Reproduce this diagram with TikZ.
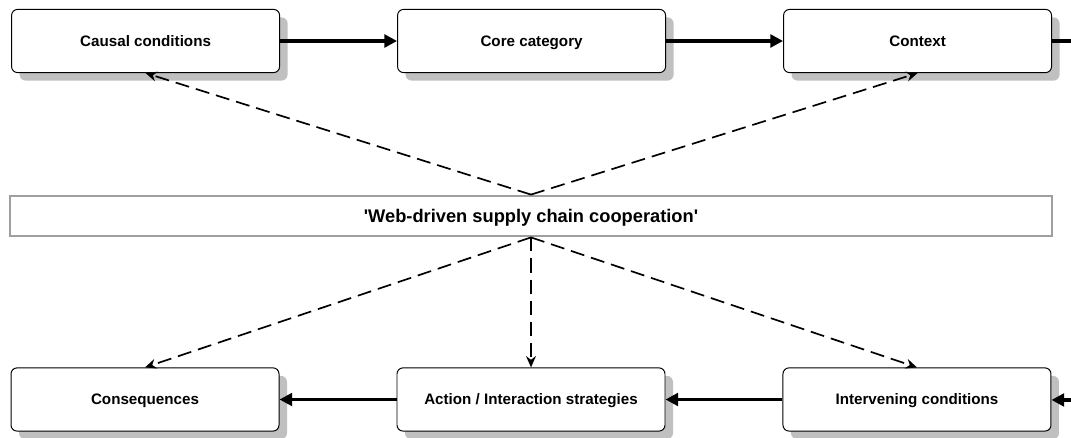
\documentclass[tikz,border=0pt]{standalone}
\usepackage{fontspec}
\setmainfont{Liberation Sans}
\usetikzlibrary{positioning,shadows,arrows.meta}
\definecolor{shadowgray}{HTML}{C0C0C0}
\tikzset{
  category/.style={draw, rounded corners=0.15cm, fill=white, line width=0.7pt,
    minimum width=6.7cm, minimum height=1.58cm, text height=7.8pt, text depth=0pt,
    font=\fontsize{10.8}{13}\selectfont\bfseries,
    drop shadow={shadow xshift=0.2cm, shadow yshift=-0.2cm, fill=shadowgray, opacity=1}},
  phenomenon/.style={draw=gray!75, line width=2pt, fill=white,
    minimum width=26.05cm, minimum height=1.0cm, text height=9.4pt, text depth=0pt,
    font=\fontsize{13}{15}\selectfont\bfseries},
  flow/.style={-{Triangle[length=9pt,width=9pt]}, line width=2.7pt},
  link/.style={-{Stealth[length=8pt,width=7pt]}, dash pattern=on 10pt off 5pt, line width=1.2pt}
}
\begin{document}
\begin{tikzpicture}
        \useasboundingbox (0,0) rectangle (26.775,-10.95);

        \node (causal)  [category] at (3.64,-1.025) {Causal conditions};
        \node (core)    [category, right=2.925cm of causal] {Core category};
        \node (context) [category, right=2.925cm of core]   {Context};

        \node (web) [phenomenon] at (13.275,-5.4) {\textquotesingle Web-driven supply chain cooperation\textquotesingle};

        \node (action)       [category, below=3.25cm of web]          {Action / Interaction strategies};
        \node (consequences) [category, left=2.925cm of action]      {Consequences};
        \node (intervening)  [category, right=2.925cm of action]     {Intervening conditions};

        \coordinate (topexit)   at (26.8,-1.025);
        \coordinate (lowentry)  at (26.8,-10);

        \draw [flow] (causal) to (core);
        \draw [flow] (core) to (context);
        \draw [line width=2.7pt] (context) to (topexit);

        \draw [flow] (lowentry) to (intervening);
        \draw [flow] (intervening) to (action);
        \draw [flow] (action) to (consequences);

        \draw [link] (web.north) to (causal.south);
        \draw [link] (web.north) to (context.south);
        \draw [link] (web.south) to (consequences.north);
        \draw [link] (web.south) to (action.north);
        \draw [link] (web.south) to (intervening.north);
      \end{tikzpicture}
\end{document}
